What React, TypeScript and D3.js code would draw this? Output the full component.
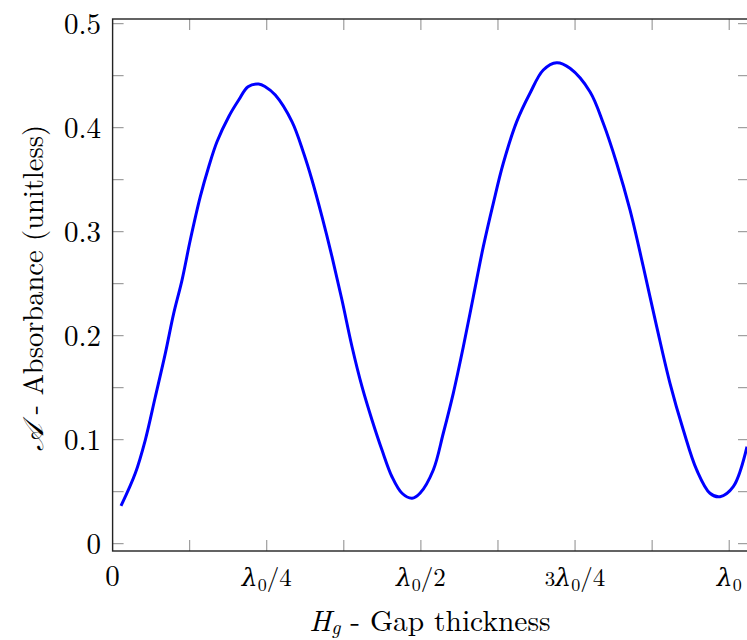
import React from "react";
import * as d3 from "d3";

// Gap thickness in units of lambda0, absorbance (unitless)
const gapThickness = [
  0.0136, 0.0368, 0.053, 0.0693, 0.0855, 0.0991, 0.1126, 0.126, 0.1422, 0.1559,
  0.1693, 0.1883, 0.2045, 0.2196, 0.2369, 0.2476, 0.2639, 0.2909, 0.3099, 0.3234,
  0.3396, 0.3558, 0.372, 0.3883, 0.4045, 0.4207, 0.4369, 0.4531, 0.4694, 0.4856,
  0.4985, 0.5201, 0.5363, 0.5525, 0.5688, 0.585, 0.6012, 0.6174, 0.6336, 0.6554,
  0.6769, 0.6985, 0.7202, 0.7418, 0.7742, 0.7958, 0.8175, 0.8391, 0.8607, 0.8824,
  0.904, 0.9256, 0.9473, 0.9688, 0.9851, 1.0066, 1.0289,
];
const absorbance = [
  0.0363, 0.0677, 0.0997, 0.1413, 0.183, 0.2215, 0.2535, 0.292, 0.3337, 0.3625,
  0.3865, 0.4106, 0.4266, 0.4394, 0.442, 0.4394, 0.4314, 0.4058, 0.3754, 0.3497,
  0.3144, 0.276, 0.2343, 0.1894, 0.151, 0.119, 0.0901, 0.0644, 0.0485, 0.0437,
  0.0485, 0.0709, 0.1062, 0.1446, 0.1894, 0.2375, 0.2856, 0.3273, 0.3658, 0.4058,
  0.4331, 0.4555, 0.4625, 0.4571, 0.4346, 0.4042, 0.3658, 0.3209, 0.2663, 0.2087,
  0.1542, 0.1093, 0.0709, 0.0485, 0.0452, 0.0548, 0.0933,
];

const xMajorTicks = [0, 0.25, 0.5, 0.75, 1.0];
const xMajorLabels = ["0", "λ0/4", "λ0/2", "3λ0/4", "λ0"];
const xAllTicks = [0, 0.125, 0.25, 0.375, 0.5, 0.625, 0.75, 0.875, 1.0];
const yMajorTicks = [0, 0.1, 0.2, 0.3, 0.4, 0.5];
const yMajorLabels = ["0", "0.1", "0.2", "0.3", "0.4", "0.5"];
const yAllTicks = [0, 0.05, 0.1, 0.15, 0.2, 0.25, 0.3, 0.35, 0.4, 0.45, 0.5];

const W = 747;
const H = 640;
const left = 112.6;
const right = 749;
const top = 19;
const bottom = 551;

const FONT = "'Latin Modern Roman', 'CMU Serif', 'DejaVu Serif', 'Liberation Serif', serif";

function XLabel({ label, x, y }: { label: string; x: number; y: number }) {
  if (label === "0") {
    return (
      <text x={x} y={y} textAnchor="middle" fontSize={29} fontFamily={FONT}>
        0
      </text>
    );
  }
  const idx = label.indexOf("λ0");
  const pre = label.slice(0, idx);
  const post = label.slice(idx + 2);
  return (
    <text x={x} y={y} textAnchor="middle" fontSize={25} fontFamily={FONT}>
      {pre && <tspan fontSize={21}>{pre}</tspan>}
      <tspan fontStyle="italic">λ</tspan>
      <tspan fontSize={18} dy={5}>0</tspan>
      <tspan dy={-5}>{post}</tspan>
    </text>
  );
}

export default function App() {
  const x = d3.scaleLinear().domain([0, (right - left) / 616.6]).range([left, right]);
  const y = d3.scaleLinear().domain([0, 0.5]).range([543.7, 23.7]);

  const pts: [number, number][] = gapThickness.map((g, i) => [g, absorbance[i]]);
  const line = d3
    .line<[number, number]>()
    .x((d) => x(d[0]))
    .y((d) => y(d[1]))
    .curve(d3.curveCatmullRom.alpha(0.5));

  const tickLen = 11;

  return (
    <svg
      width={W}
      height={H}
      style={{ position: "absolute", left: 0, top: 0, background: "#fff" }}
    >
      <defs>
        <clipPath id="plot">
          <rect x={left} y={top} width={right - left} height={bottom - top} />
        </clipPath>
      </defs>
      <g stroke="#8a8a8a" strokeWidth={1}>
        {xAllTicks.map((t, i) => (
          <g key={"xt" + i}>
            <line x1={x(t)} x2={x(t)} y1={bottom} y2={bottom - tickLen} />
            <line x1={x(t)} x2={x(t)} y1={top} y2={top + tickLen} />
          </g>
        ))}
        {yAllTicks.map((t, i) => (
          <g key={"yt" + i}>
            <line x1={left} x2={left + tickLen} y1={y(t)} y2={y(t)} />
            <line x1={right} x2={right - tickLen} y1={y(t)} y2={y(t)} />
          </g>
        ))}
      </g>
      <path
        d={line(pts) || ""}
        fill="none"
        stroke="#0000ff"
        strokeWidth={3}
        strokeLinejoin="round"
        clipPath="url(#plot)"
      />
      <rect
        x={left}
        y={top}
        width={right - left}
        height={bottom - top}
        fill="none"
        stroke="#222"
        strokeWidth={1.4}
      />
      {yMajorTicks.map((t, i) => (
        <text
          key={"yl" + i}
          x={101}
          y={y(t) + 10}
          textAnchor="end"
          fontSize={29}
          fontFamily={FONT}
        >
          {yMajorLabels[i]}
        </text>
      ))}
      {xMajorTicks.map((t, i) => (
        <XLabel key={"xl" + i} label={xMajorLabels[i]} x={x(t)} y={586} />
      ))}
      <text x={430} y={631} textAnchor="middle" fontSize={29.5} fontFamily={FONT}>
        <tspan fontStyle="italic">H</tspan>
        <tspan fontStyle="italic" fontSize={20} dy={3}>g</tspan>
        <tspan dy={-3}> - Gap thickness</tspan>
      </text>
      <text
        transform={`translate(43, 288) rotate(-90)`}
        textAnchor="middle"
        fontSize={28.5}
        fontFamily={FONT}
      >
        <tspan fontStyle="italic">𝒜</tspan>
        <tspan> - Absorbance (unitless)</tspan>
      </text>
    </svg>
  );
}
